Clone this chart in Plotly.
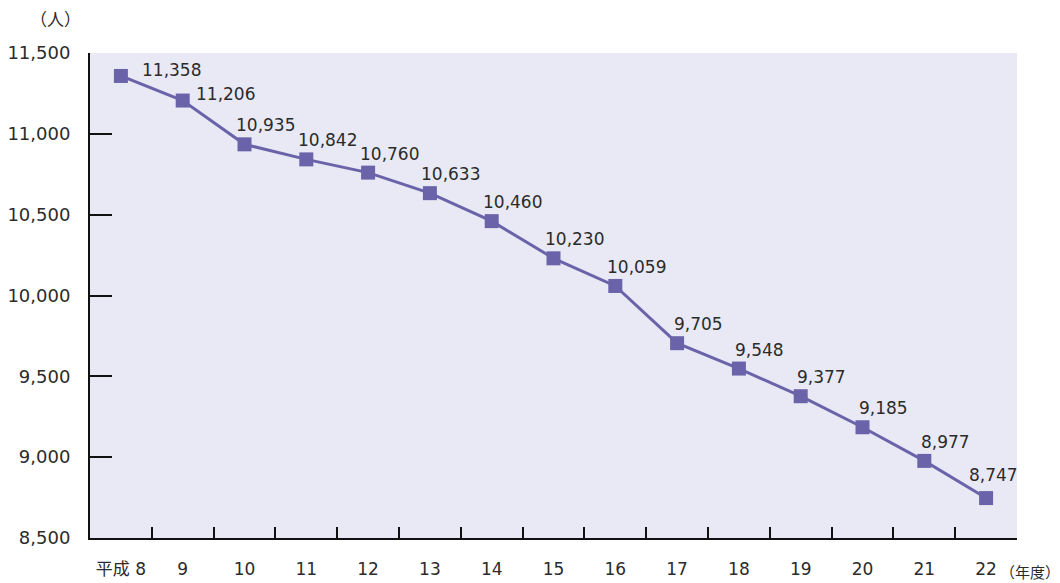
import plotly.graph_objects as go

# 年度別の人数
years = ["8", "9", "10", "11", "12", "13", "14", "15", "16", "17", "18", "19", "20", "21", "22"]
year_labels = ["平成 8", "9", "10", "11", "12", "13", "14", "15", "16", "17", "18", "19", "20", "21", "22"]
counts = [11358, 11206, 10935, 10842, 10760, 10633, 10460, 10230, 10059, 9705, 9548, 9377, 9185, 8977, 8747]

y_ticks = [8500, 9000, 9500, 10000, 10500, 11000, 11500]

LINE = "#6b63aa"
FONT = "DejaVu Sans, Noto Sans CJK JP"
JP = "Noto Sans CJK JP"
TXT = "#2b2b2b"

fig = go.Figure()
fig.add_trace(go.Scatter(
    x=years, y=counts, mode="lines+markers",
    line=dict(color=LINE, width=3),
    marker=dict(symbol="square", size=14, color=LINE),
    hoverinfo="skip", showlegend=False,
))

# 値ラベル（先頭2点は右横、それ以外は右上）
for i, v in enumerate(counts):
    if i == 0:
        dx, dy = 51, 6
    elif i == 1:
        dx, dy = 43, 7
    elif i == len(counts) - 1:
        dx, dy = 7, 23
    else:
        dx, dy = 21, 19
    fig.add_annotation(
        x=i, y=v, text=f"{v:,}", showarrow=False,
        xshift=dx, yshift=dy,
        font=dict(family=FONT, size=17, color=TXT),
    )

fig.add_annotation(
    xref="paper", yref="paper", x=-0.008, y=1.0, yshift=35,
    text="（人）", showarrow=False, xanchor="right", yanchor="middle",
    font=dict(family=JP, size=17, color=TXT),
)
fig.add_annotation(
    xref="paper", yref="paper", x=0.979, y=0, yshift=-33,
    text="（年度）", showarrow=False, xanchor="left", yanchor="middle",
    font=dict(family=JP, size=15, color=TXT),
)

fig.update_layout(
    width=1060, height=583,
    margin=dict(l=90, r=43, t=53, b=45),
    paper_bgcolor="white",
    plot_bgcolor="#e8e9f4",
    font=dict(family=FONT, size=18, color=TXT),
    xaxis=dict(
        type="category",
        tickmode="array", tickvals=years, ticktext=year_labels,
        tickson="boundaries", tickangle=0,
        ticks="inside", ticklen=11, tickwidth=2, tickcolor="#111",
        showline=True, linecolor="#111", linewidth=2,
        showgrid=False, zeroline=False,
        ticklabelstandoff=15, automargin=False,
        tickfont=dict(family=FONT, size=17, color=TXT),
        range=[-0.5, len(years) - 0.5],
    ),
    yaxis=dict(
        range=[8500, 11500],
        tickvals=y_ticks, ticktext=[f"{t:,}" for t in y_ticks],
        ticks="inside", ticklen=22, tickwidth=2, tickcolor="#111",
        showline=True, linecolor="#111", linewidth=2,
        showgrid=False, zeroline=False,
        ticklabelstandoff=14, automargin=False,
        tickfont=dict(family=FONT, size=18, color=TXT),
    ),
)

fig.write_html("out.html")
